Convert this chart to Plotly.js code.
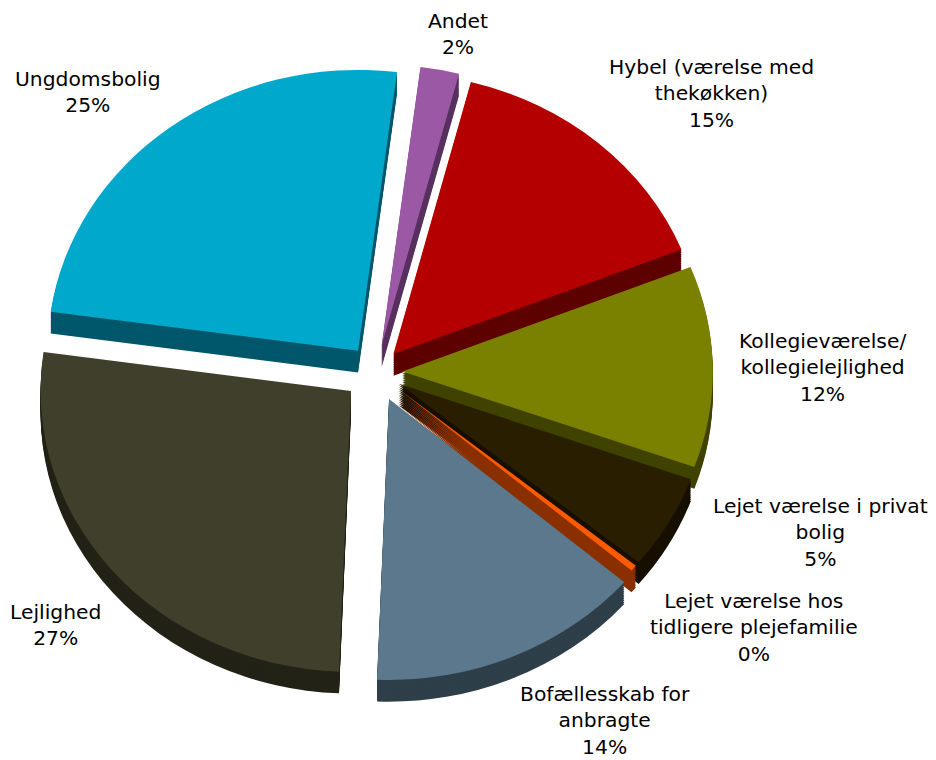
<!DOCTYPE html>
<html><head><meta charset="utf-8">
<script src="https://cdn.plot.ly/plotly-3.0.1.min.js"></script>
<style>html,body{margin:0;padding:0;background:#fff}#c{width:936px;height:760px}</style>
</head><body><div id="c"></div>
<script>
const categories = ["Andet","Hybel (værelse med thekøkken)","Kollegieværelse/ kollegielejlighed","Lejet værelse i privat bolig","Lejet værelse hos tidligere plejefamilie","Bofællesskab for anbragte","Lejlighed","Ungdomsbolig"];
const values = [2.0,14.8,11.5,5.4,0.35,14.2,26.4,24.6];
const percentLabels = ["2%","15%","12%","5%","0%","14%","27%","25%"];
const labelLines = [["Andet"],["Hybel (værelse med","thekøkken)"],["Kollegieværelse/","kollegielejlighed"],["Lejet værelse i privat","bolig"],["Lejet værelse hos","tidligere plejefamilie"],["Bofællesskab for","anbragte"],["Lejlighed"],["Ungdomsbolig"]];
const topColors = ["#9B59A5","#B50000","#7A8000","#2A1E00","#FF5A00","#5B788C","#3F3F2C","#00A8CC"];
const sideColors = ["#58305F","#5E0000","#404300","#171000","#8A3000","#2E3F4A","#222216","#00566A"];
const slicePull = [0.095,0.085,0.085,0.085,0.085,0.105,0.105,0.095];
const labelX = [458,711,822,820,754,605,55,88];
const labelY = [34,93,367,532,627,720,625,92];
const W=936,H=760,cx=376,cy=379,half=343,squash=0.905,screenCy=372,rotation=7.2,depth=24,fs=20.3;
const layers=[];
const dom=d=>({x:[(cx-half)/W,(cx+half)/W],y:[1-(cy+d+half)/H,1-(cy+d-half)/H]});
for(let d=depth;d>=0;d-=2){
  layers.push({type:'pie',labels:categories,values:values,sort:false,direction:'clockwise',rotation:rotation,
    pull:slicePull,domain:dom(d),textinfo:'none',hoverinfo:'skip',
    marker:{colors:d===0?topColors:sideColors,line:{width:0}}});
}
const annotations=labelLines.map((l,i)=>({xref:'paper',yref:'paper',x:labelX[i]/W,y:1-labelY[i]/H,
  text:l.concat(percentLabels[i]).join('<br>'),showarrow:false,xanchor:'center',yanchor:'middle',align:'center',
  font:{family:'DejaVu Sans',size:fs,color:'#000'}}));
Plotly.newPlot('c',layers,{width:W,height:H,margin:{l:0,r:0,t:0,b:0},showlegend:false,paper_bgcolor:'#fff',annotations:annotations},{displayModeBar:false,staticPlot:true}).then(()=>{
  document.querySelector('.pielayer').setAttribute('transform',`translate(0,${screenCy-cy*squash}) scale(1,${squash})`);
});
</script></body></html>
